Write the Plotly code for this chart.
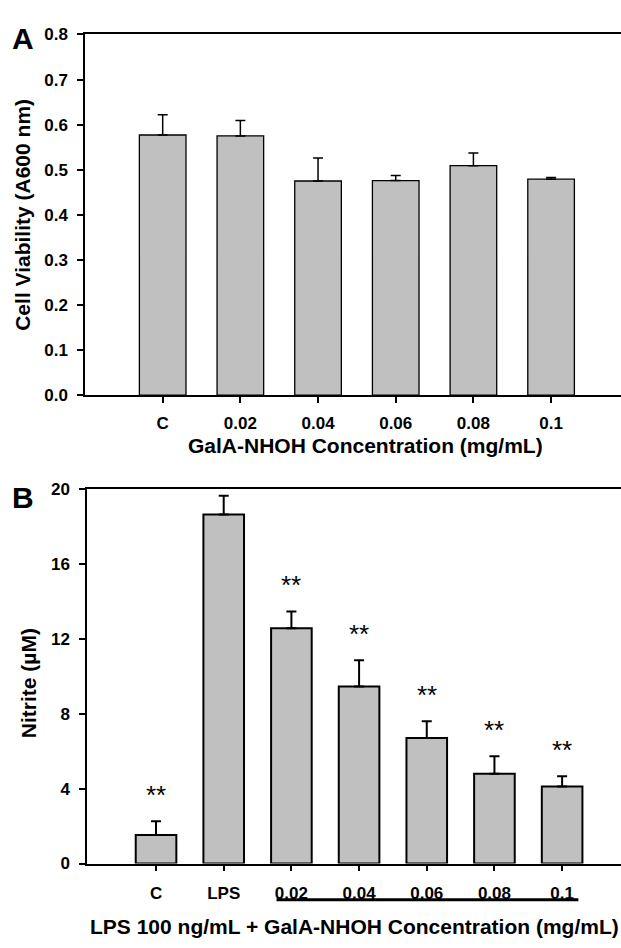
import plotly.graph_objects as go

# ---------------- data ----------------
cats_a = ["C", "0.02", "0.04", "0.06", "0.08", "0.1"]
viab_mean = [0.577, 0.575, 0.475, 0.476, 0.509, 0.479]
viab_err = [0.045, 0.034, 0.051, 0.011, 0.028, 0.004]

cats_b = ["C", "LPS", "0.02", "0.04", "0.06", "0.08", "0.1"]
nitrite_mean = [1.52, 18.65, 12.57, 9.46, 6.71, 4.80, 4.12]
nitrite_err = [0.74, 1.00, 0.90, 1.40, 0.89, 0.93, 0.54]
signif_b = ["**", "", "**", "**", "**", "**", "**"]

yticks_a = [0.0, 0.1, 0.2, 0.3, 0.4, 0.5, 0.6, 0.7, 0.8]
yticks_b = [0, 4, 8, 12, 16, 20]

W, H = 621, 948
FONT = "Liberation Sans, Arial, sans-serif"
BAR_FILL = "#c0c0c0"


def px_x(p):
    return p / W


def px_y(p):
    return 1 - p / H


def bold(s):
    return f"<b>{s}</b>"


xa = list(range(len(cats_a)))
xb = list(range(len(cats_b)))

fig = go.Figure()

fig.add_trace(go.Bar(
    x=xa, y=viab_mean, width=0.6,
    marker=dict(color=BAR_FILL, line=dict(color="black", width=1.3)),
    error_y=dict(type="data", symmetric=False, array=viab_err,
                 arrayminus=[0] * len(viab_err), color="black",
                 thickness=1.5, width=5),
    xaxis="x", yaxis="y", showlegend=False,
))

fig.add_trace(go.Bar(
    x=xb, y=nitrite_mean, width=0.6,
    marker=dict(color=BAR_FILL, line=dict(color="black", width=2)),
    error_y=dict(type="data", symmetric=False, array=nitrite_err,
                 arrayminus=[0] * len(nitrite_err), color="black",
                 thickness=2, width=5),
    xaxis="x2", yaxis="y2", showlegend=False,
))

axis_common = dict(
    showline=True, linecolor="black", linewidth=1.5,
    ticks="outside", ticklen=6, tickwidth=1.5, tickcolor="black",
    showgrid=False, zeroline=False,
    tickfont=dict(family=FONT, size=17, color="black"),
)

fig.update_layout(
    width=W, height=H,
    margin=dict(l=0, r=0, t=0, b=0),
    paper_bgcolor="white", plot_bgcolor="white",
    xaxis=dict(axis_common, domain=[px_x(85), 1], range=[-1.0, 5.9],
               tickmode="array", tickvals=xa, ticktext=[bold(c) for c in cats_a],
               mirror=True, anchor="y", ticklabelstandoff=6),
    yaxis=dict(axis_common, domain=[px_y(394), px_y(26)], range=[0, 0.8],
               tickmode="array", tickvals=yticks_a,
               ticktext=[bold(f"{v:.1f}") for v in yticks_a],
               anchor="x", ticklabelstandoff=6),
    xaxis2=dict(axis_common, domain=[px_x(87), 1], range=[-1.02, 6.87],
                tickmode="array", tickvals=xb, ticktext=[bold(c) for c in cats_b],
                mirror=True, anchor="y2", ticklabelstandoff=7),
    yaxis2=dict(axis_common, domain=[px_y(872), px_y(490)], range=[0, 20],
                tickmode="array", tickvals=yticks_b,
                ticktext=[bold(str(v)) for v in yticks_b],
                anchor="x2", ticklabelstandoff=6),
)

title_font = dict(family=FONT, size=21, color="black")
big_font = dict(family=FONT, size=30, color="black")


def pann(text, x, y, font, angle=0):
    return dict(text=bold(text), x=px_x(x), y=px_y(y), xref="paper", yref="paper",
                xanchor="center", yanchor="middle", textangle=angle,
                showarrow=False, font=font)


ann = [
    pann("A", 23, 30, big_font),
    pann("B", 23, 498, big_font),
    pann("Cell Viability (A600 nm)", 23, 210, title_font, -90),
    pann("GalA-NHOH Concentration (mg/mL)", 366, 445, title_font),
    pann("Nitrite (µM)", 28, 688, title_font, -90),
    pann("LPS 100 ng/mL + GalA-NHOH Concentration (mg/mL)", 354, 936, title_font),
]
for i, s in enumerate(signif_b):
    if s:
        ann.append(dict(text=s, x=xb[i], y=nitrite_mean[i] + nitrite_err[i] + 0.5,
                        xref="x2", yref="y2", xanchor="center", yanchor="bottom",
                        showarrow=False,
                        font=dict(family=FONT, size=26, color="black")))
fig.update_layout(annotations=ann)

# underline grouping the LPS + concentration bars
i0 = cats_b.index("0.02")
i1 = cats_b.index("0.1")
fig.add_shape(type="line", xref="x2", yref="paper",
              x0=xb[i0] - 0.22, x1=xb[i1] + 0.24,
              y0=px_y(909), y1=px_y(909),
              line=dict(color="black", width=3))

fig.write_html("out.html")
